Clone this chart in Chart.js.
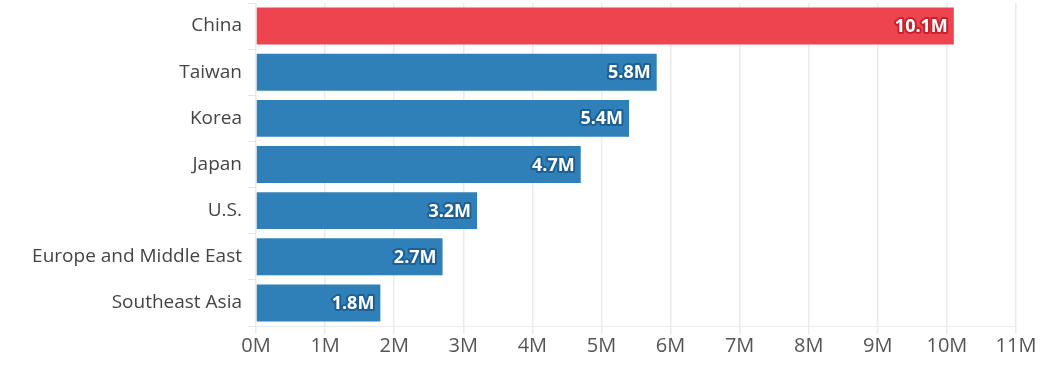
<!DOCTYPE html>
<html>
<head>
<meta charset="utf-8">
<script src="https://cdn.jsdelivr.net/npm/chart.js@4"></script>
<style>
  body { margin: 0; background: #fff; }
  #wrap { width: 1056px; height: 367px; }
</style>
</head>
<body>
<div id="wrap"><canvas id="grafico"></canvas></div>
<script>
// Datos del gráfico
const regiones = ['China', 'Taiwan', 'Korea', 'Japan', 'U.S.', 'Europe and Middle East', 'Southeast Asia'];
const valores = [10.1, 5.8, 5.4, 4.7, 3.2, 2.7, 1.8];
const etiquetas = ['10.1M', '5.8M', '5.4M', '4.7M', '3.2M', '2.7M', '1.8M'];
const ejeMax = 11;

const colorRojo = '#ee4450';
const colorAzul = '#2f80b9';
const colores = regiones.map(r => r === 'China' ? colorRojo : colorAzul);
const bordesTexto = regiones.map(r => r === 'China' ? '#c8202c' : '#1b5f95');

const fuente = "'Open Sans', Lato, sans-serif";

// Plugin propio para escribir el valor dentro del final de cada barra
const etiquetasValor = {
    id: 'etiquetasValor',
    afterDatasetsDraw(chart) {
        const ctx = chart.ctx;
        const meta = chart.getDatasetMeta(0);
        ctx.save();
        ctx.font = "bold 18px " + fuente;
        ctx.textAlign = 'right';
        ctx.textBaseline = 'middle';
        ctx.lineJoin = 'round';
        meta.data.forEach((bar, i) => {
            const x = bar.x - 6;
            const y = bar.y + 1;
            ctx.lineWidth = 4;
            ctx.strokeStyle = bordesTexto[i];
            ctx.strokeText(etiquetas[i], x, y);
            ctx.fillStyle = '#ffffff';
            ctx.fillText(etiquetas[i], x, y);
        });
        ctx.restore();
    }
};

new Chart(document.getElementById('grafico'), {
    type: 'bar',
    data: {
        labels: regiones,
        datasets: [{
            data: valores,
            backgroundColor: colores,
            borderWidth: 0,
            barPercentage: 0.8,
            categoryPercentage: 1.0
        }]
    },
    options: {
        indexAxis: 'y',
        responsive: true,
        maintainAspectRatio: false,
        animation: false,
        layout: { padding: { top: 3, right: 40, bottom: 0, left: 0 } },
        plugins: {
            legend: { display: false },
            tooltip: { enabled: false }
        },
        scales: {
            x: {
                min: 0,
                max: ejeMax,
                afterFit: s => { s.height = 41; },
                grid: { color: '#ebebeb', tickLength: 8, lineWidth: 1.5 },
                border: { color: '#ebebeb' },
                ticks: {
                    stepSize: 1,
                    padding: 0,
                    color: '#555',
                    font: { family: fuente, size: 20 },
                    callback: v => v + 'M'
                }
            },
            y: {
                afterFit: s => {
                    s.width = 256;
                    s.paddingTop = 0;
                    s.paddingBottom = 0;
                },
                grid: { drawOnChartArea: false, color: '#e6e6e6', tickLength: 8 },
                border: { display: false },
                ticks: {
                    padding: 6,
                    color: '#444',
                    font: { family: fuente, size: 19 }
                }
            }
        }
    },
    plugins: [etiquetasValor]
});
</script>
</body>
</html>
